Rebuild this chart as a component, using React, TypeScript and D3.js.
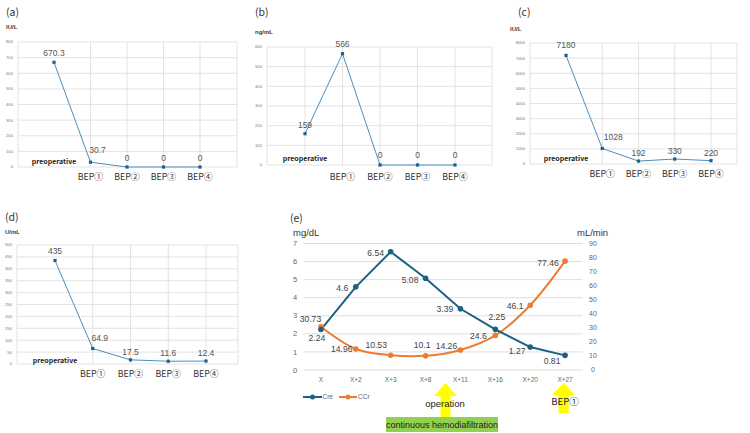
import React from "react";
import * as d3 from "d3";

// ---------- data ----------
const smallCategories = ["preoperative", "BEP①", "BEP②", "BEP③", "BEP④"];
const hcgValues = [670.3, 30.7, 0, 0, 0];
const afpValues = [159, 566, 0, 0, 0];
const ldhValues = [7180, 1028, 192, 330, 220];
const ca125Values = [435, 64.9, 17.5, 11.6, 12.4];

const renalCategories = ["X", "X+2", "X+3", "X+8", "X+11", "X+16", "X+20", "X+27"];
const creValues = [2.24, 4.6, 6.54, 5.08, 3.39, 2.25, 1.27, 0.81];
const ccrValues = [30.73, 14.96, 10.53, 10.1, 14.26, 24.6, 46.1, 77.46];
const creTicks = [0, 1, 2, 3, 4, 5, 6, 7];
const ccrTicks = [0, 10, 20, 30, 40, 50, 60, 70, 80, 90];

const NUM_FONT = "'Liberation Sans', Arial, sans-serif";
const JP_FONT = "'Noto Sans CJK JP', 'Noto Sans', sans-serif";

type PanelProps = {
  tag: string;
  unit: string;
  values: number[];
  ymax: number;
  ystep: number;
  left: number;
  right: number;
  top: number;
  bottom: number;
  firstX: number;
  lastX: number;
  tagY: number;
  unitX: number;
  unitY: number;
  labelShift: [number, number][];
  catY: number;
  preY: number;
  midGrid?: boolean;
};

function SmallPanel(p: PanelProps) {
  const y = d3.scaleLinear().domain([0, p.ymax]).range([p.bottom, p.top]);
  const x = d3.scaleLinear().domain([0, smallCategories.length - 1]).range([p.firstX, p.lastX]);
  const ticks = d3.range(0, p.ymax + p.ystep / 2, p.ystep);
  const line = d3
    .line<number>()
    .x((_, i) => x(i))
    .y((d) => y(d));
  const vlines = [p.left, p.right];
  smallCategories.forEach((_, i) => {
    if (i > 0 || p.midGrid) vlines.push(x(i));
  });
  return (
    <g>
      <text x={p.left - 12} y={p.tagY} fontSize={10.5} fontFamily={JP_FONT} fill="#333">
        {p.tag}
      </text>
      <text x={p.unitX} y={p.unitY} fontSize={6} fontFamily={NUM_FONT} fontWeight="bold" fill="#3a3a3a">
        {p.unit}
      </text>
      {ticks.map((t) => (
        <g key={t}>
          <line x1={p.left} x2={p.right} y1={y(t)} y2={y(t)} stroke="#dcdcdc" strokeWidth={0.8} />
          <text
            x={p.left - 5}
            y={y(t)}
            dy="0.35em"
            textAnchor="end"
            fontSize={4.2}
            fontFamily={NUM_FONT}
            fill="#777"
          >
            {t}
          </text>
        </g>
      ))}
      {vlines.map((vx, i) => (
        <line key={i} x1={vx} x2={vx} y1={p.top} y2={p.bottom} stroke="#dcdcdc" strokeWidth={0.8} />
      ))}
      <path d={line(p.values) || ""} fill="none" stroke="#4a8fbd" strokeWidth={1} />
      {p.values.map((v, i) => (
        <rect key={i} x={x(i) - 1.6} y={y(v) - 1.6} width={3.2} height={3.2} fill="#1f5f8b" />
      ))}
      {p.values.map((v, i) => (
        <text
          key={"l" + i}
          x={x(i) + p.labelShift[i][0]}
          y={y(v) + p.labelShift[i][1]}
          dy="0.35em"
          textAnchor="middle"
          fontSize={8.5}
          fontFamily={NUM_FONT}
          fill="#555"
        >
          {v}
        </text>
      ))}
      <text
        x={x(0)}
        y={p.preY}
        dy="0.35em"
        textAnchor="middle"
        fontSize={7}
        fontWeight="bold"
        fontFamily={JP_FONT}
        fill="#222"
      >
        {smallCategories[0]}
      </text>
      {smallCategories.slice(1).map((c, i) => (
        <text
          key={c}
          x={x(i + 1)}
          y={p.catY}
          dy="0.35em"
          textAnchor="middle"
          fontSize={8.8}
          fontFamily={JP_FONT}
          fill="#333"
        >
          {c}
        </text>
      ))}
    </g>
  );
}

function Arrow({ cx, tip, base, bottom }: { cx: number; tip: number; base: number; bottom: number }) {
  const hw = 11.5;
  const sw = 5;
  const d = `M${cx},${tip} L${cx + hw},${base} L${cx + sw},${base} L${cx + sw},${bottom} L${cx - sw},${bottom} L${cx - sw},${base} L${cx - hw},${base} Z`;
  return <path d={d} fill="#ffff00" />;
}

function RenalPanel() {
  const left = 303.5;
  const right = 582.5;
  const top = 243.5;
  const bottom = 370;
  const x = d3.scalePoint<string>().domain(renalCategories).range([left, right]).padding(0.5);
  const yL = d3.scaleLinear().domain([0, 7]).range([bottom, top]);
  const yR = d3.scaleLinear().domain([0, 90]).range([bottom, top]);
  const creLine = d3
    .line<number>()
    .x((_, i) => x(renalCategories[i]) as number)
    .y((d) => yL(d));
  const ccrLine = d3
    .line<number>()
    .x((_, i) => x(renalCategories[i]) as number)
    .y((d) => yR(d))
    .curve(d3.curveCatmullRom.alpha(0.5));
  const creColor = "#1d6083";
  const ccrColor = "#ee7b33";
  // label offsets [dx, dy]
  const creOff: [number, number][] = [
    [-4, 8],
    [-13.5, 1],
    [-15, 1],
    [-15.5, 2],
    [-15.5, 0.5],
    [1.5, -12],
    [-13, 4],
    [-13, 6],
  ];
  const ccrOff: [number, number][] = [
    [-10.5, -8],
    [-14, 0],
    [-14.5, -10],
    [-3.5, -11],
    [-14, -4],
    [-17, 0.5],
    [-15, 1],
    [-17, 2],
  ];
  const labelFont = 8.6;
  return (
    <g fontFamily={NUM_FONT}>
      <text x={290} y={218} dy="0.35em" fontSize={10.5} fontFamily={JP_FONT} fill="#333">
        (e)
      </text>
      <text x={293} y={233} dy="0.35em" fontSize={9.5} fill="#333">
        mg/dL
      </text>
      <text x={577} y={233} dy="0.35em" fontSize={9.5} fill="#333">
        mL/min
      </text>
      {creTicks.map((t) => (
        <g key={t}>
          <line x1={left} x2={right} y1={yL(t)} y2={yL(t)} stroke="#dedede" strokeWidth={1} />
          <text x={295} y={yL(t)} dy="0.35em" textAnchor="middle" fontSize={7.5} fill="#666">
            {t}
          </text>
        </g>
      ))}
      {ccrTicks.map((t) => (
        <text key={t} x={593} y={yR(t)} dy="0.35em" textAnchor="middle" fontSize={7} fill="#666">
          {t}
        </text>
      ))}
      {renalCategories.map((c) => (
        <text key={c} x={x(c) as number} y={380} dy="0.35em" textAnchor="middle" fontSize={6.5} fill="#666">
          {c}
        </text>
      ))}
      <path d={ccrLine(ccrValues) || ""} fill="none" stroke={ccrColor} strokeWidth={2} />
      <path d={creLine(creValues) || ""} fill="none" stroke={creColor} strokeWidth={2} />
      {ccrValues.map((v, i) => (
        <circle key={"cc" + i} cx={x(renalCategories[i]) as number} cy={yR(v)} r={2.8} fill={ccrColor} />
      ))}
      {creValues.map((v, i) => (
        <circle key={"cr" + i} cx={x(renalCategories[i]) as number} cy={yL(v)} r={2.8} fill={creColor} />
      ))}
      {creValues.map((v, i) => (
        <text
          key={"crl" + i}
          x={(x(renalCategories[i]) as number) + creOff[i][0]}
          y={yL(v) + creOff[i][1]}
          dy="0.35em"
          textAnchor="middle"
          fontSize={labelFont}
          fill="#444"
        >
          {v}
        </text>
      ))}
      {ccrValues.map((v, i) => (
        <text
          key={"ccl" + i}
          x={(x(renalCategories[i]) as number) + ccrOff[i][0]}
          y={yR(v) + ccrOff[i][1]}
          dy="0.35em"
          textAnchor="middle"
          fontSize={labelFont}
          fill="#444"
        >
          {v}
        </text>
      ))}
      {/* legend */}
      <line x1={303} x2={322} y1={397} y2={397} stroke={creColor} strokeWidth={2} />
      <circle cx={312.5} cy={397} r={2.5} fill={creColor} />
      <text x={322.5} y={397} dy="0.35em" fontSize={6.5} fill="#666">
        Cre
      </text>
      <line x1={339} x2={357} y1={397} y2={397} stroke={ccrColor} strokeWidth={2} />
      <circle cx={348} cy={397} r={2.5} fill={ccrColor} />
      <text x={358} y={397} dy="0.35em" fontSize={6.5} fill="#666">
        CCr
      </text>
      {/* annotations */}
      <Arrow cx={445.5} tip={383} base={396} bottom={417} />
      <text x={445} y={404} dy="0.35em" textAnchor="middle" fontSize={9.5} fill="#222">
        operation
      </text>
      <rect x={386} y={417} width={112} height={15} fill="#92d050" />
      <text x={442} y={424.5} dy="0.35em" textAnchor="middle" fontSize={9} fill="#222">
        continuous hemodiafiltration
      </text>
      <Arrow cx={563.5} tip={383} base={395} bottom={413} />
      <text x={565} y={402} dy="0.35em" textAnchor="middle" fontSize={9.5} fontFamily={JP_FONT} fill="#222">
        BEP①
      </text>
    </g>
  );
}

export default function App() {
  return (
    <svg
      width={750}
      height={433}
      viewBox="0 0 750 433"
      style={{ position: "absolute", left: 0, top: 0, background: "#fff" }}
    >
      <rect x={0} y={0} width={750} height={433} fill="#fff" />
      <SmallPanel
        tag="(a)"
        unit="IU/L"
        values={hcgValues}
        ymax={800}
        ystep={100}
        left={18}
        right={237}
        top={42}
        bottom={167}
        firstX={54}
        lastX={200}
        tagY={16}
        unitX={6}
        unitY={29}
        labelShift={[
          [0, -9],
          [7, -12],
          [0, -9],
          [0, -9],
          [0, -9],
        ]}
        catY={177}
        preY={162}
      />
      <SmallPanel
        tag="(b)"
        unit="ng/mL"
        values={afpValues}
        ymax={600}
        ystep={100}
        left={267}
        right={492}
        top={47}
        bottom={165}
        firstX={305}
        lastX={455}
        tagY={16}
        unitX={255}
        unitY={34}
        labelShift={[
          [0, -9],
          [0, -10],
          [0, -10],
          [0, -10],
          [0, -10],
        ]}
        catY={177}
        preY={159}
        midGrid
      />
      <SmallPanel
        tag="(c)"
        unit="IU/L"
        values={ldhValues}
        ymax={8000}
        ystep={1000}
        left={530}
        right={737}
        top={43}
        bottom={164}
        firstX={566}
        lastX={711}
        tagY={16}
        unitX={510}
        unitY={31}
        labelShift={[
          [0, -10],
          [11, -11],
          [0, -8],
          [0, -8],
          [0, -8],
        ]}
        catY={174}
        preY={159}
      />
      <SmallPanel
        tag="(d)"
        unit="U/mL"
        values={ca125Values}
        ymax={500}
        ystep={50}
        left={17}
        right={238}
        top={245}
        bottom={364}
        firstX={55}
        lastX={206}
        tagY={221}
        unitX={5}
        unitY={234}
        labelShift={[
          [0, -9],
          [7, -11],
          [0, -8],
          [0, -8],
          [0, -8],
        ]}
        catY={374}
        preY={361}
      />
      <RenalPanel />
    </svg>
  );
}
